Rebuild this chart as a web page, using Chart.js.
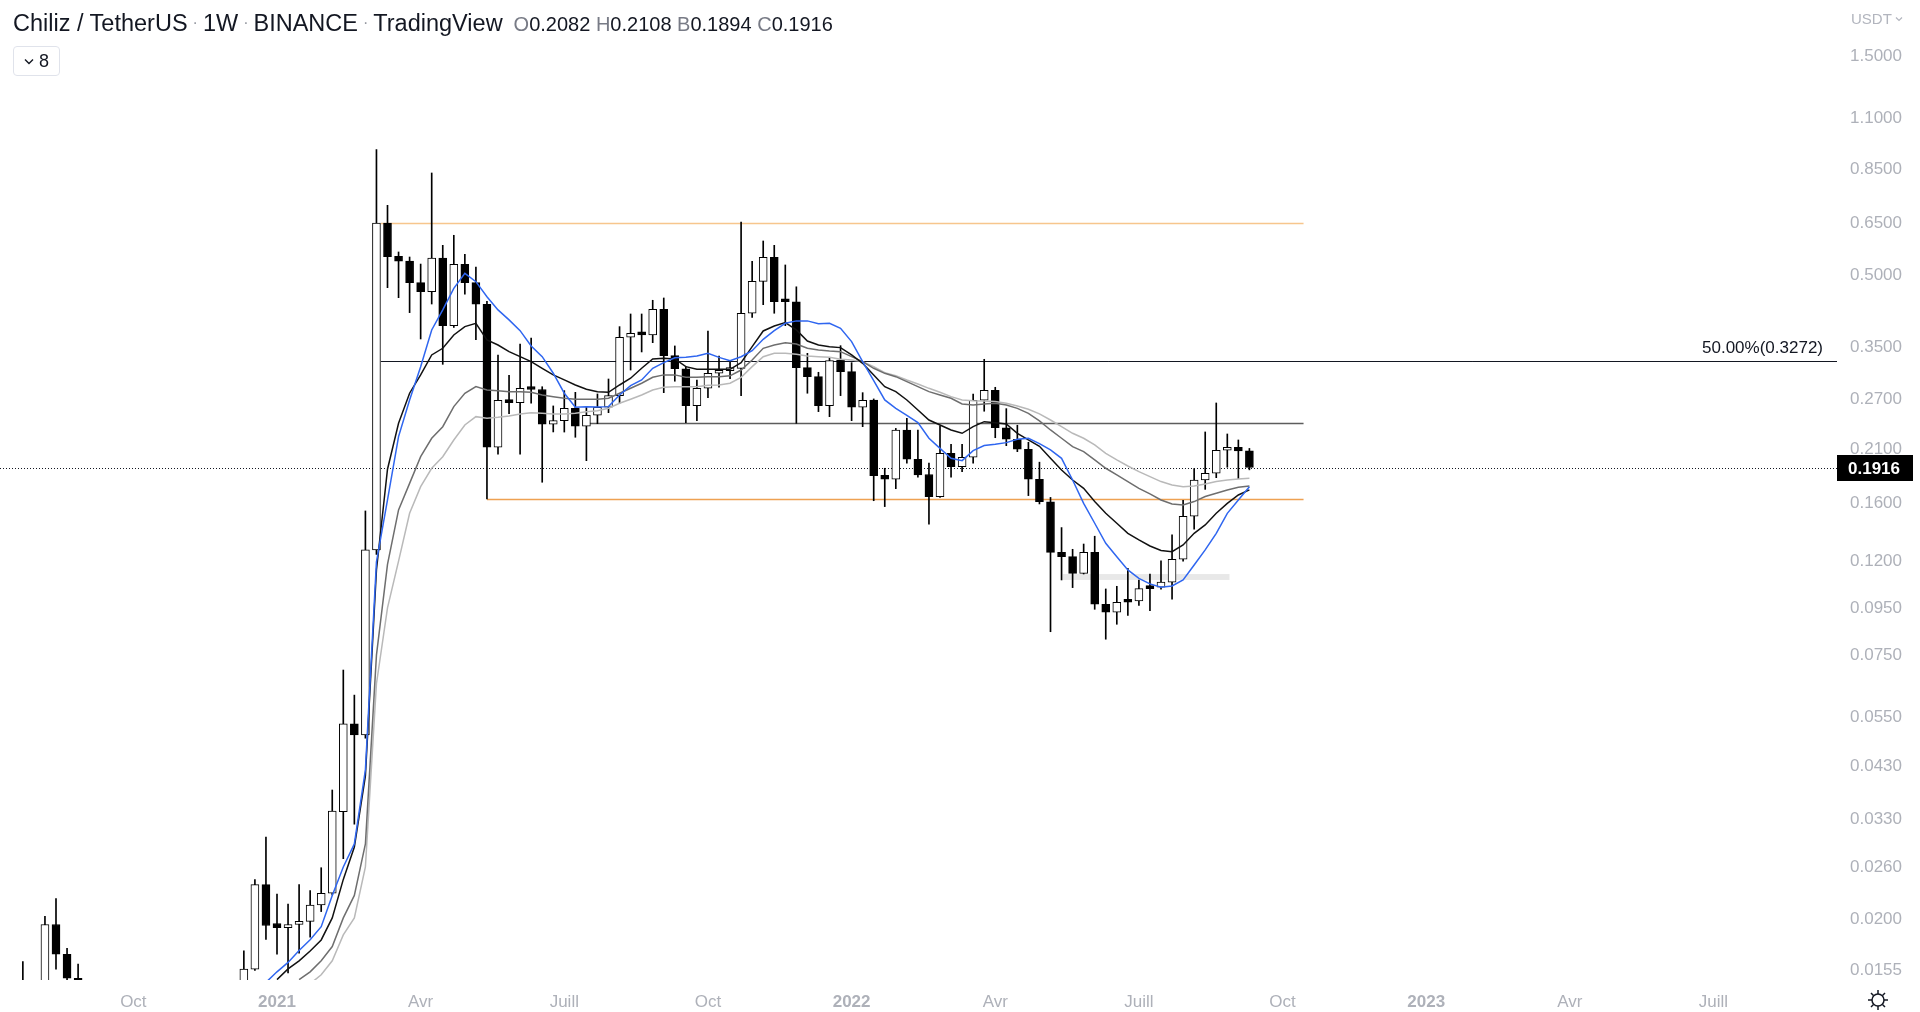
<!DOCTYPE html>
<html><head><meta charset="utf-8">
<script src="https://cdn.jsdelivr.net/npm/chart.js@4.4.1/dist/chart.umd.min.js"></script>
<style>
html,body{margin:0;padding:0;background:#fff;width:1920px;height:1012px;overflow:hidden}
#wrap{position:relative;width:1920px;height:1012px}
#c{position:absolute;left:0;top:0}
.ov{position:absolute;font-family:"Liberation Sans",Arial,sans-serif;white-space:nowrap;color:#131722}
#title{left:13px;top:10px;font-size:23.5px}
#title .dot{color:#9598a1;font-size:16px;margin:0 5px;vertical-align:3px}
#ohlc{font-size:20px;margin-left:11px}
#ohlc .k{color:#787b86}
#leg{left:13px;top:46px;width:47px;height:30px;border:1px solid #e0e3eb;border-radius:4px;box-sizing:border-box;font-size:18px;display:flex;align-items:center;justify-content:center;gap:5px}
#usdt{left:1851px;top:10px;font-size:15px;color:#b2b5be;display:flex;align-items:center;gap:3px}
#gear{left:1867px;top:989px}
</style></head>
<body><div id="wrap"><canvas id="c" width="1920" height="1012"></canvas>
<div id="title" class="ov">Chiliz / TetherUS<span class="dot">·</span>1W<span class="dot">·</span>BINANCE<span class="dot">·</span>TradingView<span id="ohlc"><span class="k">O</span>0.2082 <span class="k">H</span>0.2108 <span class="k">B</span>0.1894 <span class="k">C</span>0.1916</span></div>
<div id="leg" class="ov"><svg width="10" height="7" viewBox="0 0 10 7"><path d="M1 1.5 L5 5.5 L9 1.5" fill="none" stroke="#131722" stroke-width="1.4"/></svg><span>8</span></div>
<div id="usdt" class="ov">USDT<svg width="8" height="6" viewBox="0 0 8 6"><path d="M1 1.5 L4 4.5 L7 1.5" fill="none" stroke="#b2b5be" stroke-width="1.2"/></svg></div>
<svg id="gear" class="ov" width="22" height="22" viewBox="0 0 22 22"><circle cx="11" cy="11" r="6" fill="none" stroke="#131722" stroke-width="1.5"/><g stroke="#131722" stroke-width="1.5"><line x1="11" y1="1" x2="11" y2="5"/><line x1="11" y1="17" x2="11" y2="21"/><line x1="1" y1="11" x2="5" y2="11"/><line x1="17" y1="11" x2="21" y2="11"/><line x1="4" y1="4" x2="6.5" y2="6.5"/><line x1="15.5" y1="15.5" x2="18" y2="18"/><line x1="4" y1="18" x2="6.5" y2="15.5"/><line x1="15.5" y1="6.5" x2="18" y2="4"/></g></svg>
</div>
<script>
// ---- weekly candles (week index: 0 = week of 4 Jan 2021) ----
const candleWeeks = [-23,-22,-21,-20,-19,-18].concat(Array.from({length: 92}, (_, i) => i - 3));
const opens = [0.0128,0.0132,0.0135,0.0195,0.0168,0.0149,
 0.0140,0.0156,0.0238,0.0196,0.0192,0.0195,0.0198,0.0215,0.0228,0.0343,0.0532,0.0503,0.1269,
 0.6509,0.551,0.5382,0.483,0.4616,0.5463,0.3895,0.5294,0.483,0.4334,
 0.2121,0.2682,0.265,0.2855,0.283,0.2379,0.2422,0.2577,0.2355,0.2488,
 0.259,0.2745,0.3675,0.3755,0.372,0.4227,0.3353,0.314,0.261,0.2848,
 0.307,0.311,0.3147,0.4144,0.4862,0.5483,0.4422,0.439,0.3157,0.3018,
 0.261,0.3281,0.3094,0.259,0.2684,0.1843,0.1807,0.2312,0.1997,0.185,
 0.1656,0.2057,0.1924,0.2017,0.2682,0.282,0.2338,0.2207,0.2099,0.1807,
 0.1615,0.1254,0.1227,0.1129,0.1254,0.0967,0.0929,0.0983,0.0983,0.1053,
 0.1053,0.108,0.1211,0.1502,0.18,0.1862,0.2089,0.212,0.2082];
const highs = [0.0162,0.0145,0.0203,0.0222,0.0173,0.0160,
 0.0171,0.0244,0.0302,0.0227,0.0216,0.0238,0.0231,0.0259,0.0382,0.0696,0.0614,0.1542,0.94,
 0.711,0.563,0.549,0.53,0.8357,0.582,0.612,0.5566,0.5223,0.44,
 0.3364,0.304,0.3554,0.3662,0.287,0.2607,0.2814,0.2791,0.2598,0.2768,
 0.2983,0.3876,0.4129,0.4129,0.4422,0.4473,0.3519,0.318,0.2968,0.3793,
 0.3347,0.3265,0.654,0.5374,0.5948,0.582,0.5276,0.473,0.3392,0.3085,
 0.3309,0.3524,0.3237,0.2786,0.27,0.1909,0.233,0.245,0.2312,0.1958,
 0.2359,0.2153,0.2153,0.2768,0.3292,0.2862,0.2572,0.2367,0.2174,0.1968,
 0.165,0.1419,0.1273,0.1307,0.1359,0.1044,0.1058,0.1158,0.1092,0.1125,
 0.1201,0.1368,0.1627,0.1905,0.2289,0.2646,0.2266,0.2199,0.2108];
const lows = [0.0120,0.0122,0.0130,0.0156,0.0140,0.0135,
 0.0135,0.0155,0.0181,0.0168,0.0153,0.0169,0.0183,0.0208,0.0226,0.0271,0.0322,0.0495,0.124,
 0.471,0.448,0.4157,0.3644,0.434,0.321,0.386,0.4557,0.3631,0.1638,
 0.2048,0.2508,0.2048,0.2642,0.178,0.2289,0.2288,0.2229,0.1983,0.2386,
 0.2521,0.2642,0.312,0.3415,0.3577,0.2786,0.295,0.2398,0.2422,0.2717,
 0.2862,0.2988,0.2745,0.406,0.4326,0.4144,0.3895,0.239,0.2778,0.2534,
 0.2471,0.2745,0.2422,0.235,0.1623,0.1576,0.1724,0.1958,0.1825,0.1443,
 0.165,0.1825,0.1877,0.1958,0.2539,0.2224,0.2137,0.2074,0.1665,0.1597,
 0.0843,0.1092,0.1051,0.1125,0.0943,0.0812,0.0875,0.0915,0.0962,0.0937,
 0.1043,0.0992,0.12,0.1407,0.1718,0.1821,0.1919,0.1812,0.1894];
const closes = [0.0132,0.0135,0.0195,0.0168,0.0149,0.0145,
 0.0156,0.0238,0.0194,0.0192,0.0195,0.0198,0.0215,0.0228,0.0344,0.0532,0.0503,0.1269,0.6509,
 0.55,0.5374,0.483,0.4616,0.5463,0.3895,0.5294,0.483,0.4334,0.2121,
 0.2682,0.265,0.2848,0.283,0.2379,0.2422,0.2577,0.2355,0.2488,0.259,
 0.2745,0.3675,0.375,0.372,0.4227,0.3353,0.314,0.261,0.2848,0.307,
 0.311,0.3147,0.4144,0.4862,0.5483,0.439,0.439,0.3157,0.3018,0.261,
 0.327,0.3094,0.259,0.2682,0.184,0.1807,0.2312,0.1997,0.1846,0.1656,
 0.2057,0.1924,0.2017,0.2682,0.282,0.2338,0.2207,0.2099,0.1807,0.1615,
 0.1254,0.1227,0.1129,0.1254,0.0967,0.0929,0.0977,0.0977,0.1046,0.1046,
 0.108,0.1211,0.1502,0.18,0.1862,0.2089,0.212,0.2082,0.1916];

// ---- moving averages (weeks -1 .. 88) ----
const maWeeks = Array.from({length: 90}, (_, i) => i - 1);
const maBlue = [0.0146,0.01539,0.01613,0.01712,0.01807,0.01929,0.02255,0.0260,0.02917,0.04223,0.1195,
 0.1629,0.2236,0.2686,0.3173,0.3812,0.4213,0.4695,0.5061,0.4853,0.4502,
 0.4214,0.4009,0.3799,0.3519,0.3335,0.307,0.2778,0.2589,0.2598,0.2592,
 0.2598,0.2754,0.2886,0.2969,0.3147,0.3237,0.3318,0.3324,0.3347,0.3392,
 0.3324,0.327,0.3335,0.3437,0.3638,0.3799,0.3941,0.3989,0.3989,0.3934,
 0.3941,0.3844,0.3596,0.3254,0.2959,0.2686,0.2576,0.2488,0.2398,0.2218,
 0.2109,0.2006,0.1983,0.2085,0.2138,0.2152,0.217,0.2207,0.2218,0.216,
 0.2092,0.2006,0.18,0.1602,0.145,0.1312,0.1227,0.1148,0.1101,0.1071,
 0.1053,0.106,0.1092,0.1177,0.1269,0.1379,0.1524,0.1629,0.1741];
const maBlack = [null,0.0148,0.01562,0.01626,0.01708,0.01805,0.02015,0.02443,0.02873,0.04098,0.1148,
 0.19,0.239,0.2778,0.3045,0.3364,0.3478,0.3717,0.3876,0.3941,0.3626,
 0.3536,0.342,0.3335,0.3254,0.3147,0.3045,0.2969,0.2895,0.2834,0.28,
 0.2791,0.2895,0.2994,0.3147,0.3298,0.3309,0.3298,0.3173,0.3131,0.3131,
 0.3131,0.3131,0.3237,0.3507,0.3793,0.3889,0.3954,0.3812,0.3607,0.3536,
 0.3507,0.349,0.3364,0.3226,0.3044,0.2871,0.28,0.2686,0.2555,0.243,
 0.237,0.2312,0.2274,0.2351,0.241,0.2398,0.2382,0.2274,0.2199,0.213,
 0.2006,0.1893,0.18,0.1727,0.1616,0.1524,0.145,0.1379,0.1334,0.1294,
 0.1265,0.1258,0.1301,0.1379,0.1438,0.1524,0.1602,0.167,0.1713];
const maDark = [null,null,null,0.0148,0.01539,0.01626,0.01746,0.02015,0.02255,0.02917,0.075,
 0.118,0.155,0.177,0.2023,0.2218,0.235,0.2598,0.2778,0.2871,0.2824,
 0.2814,0.28,0.28,0.2791,0.2754,0.2731,0.2709,0.2696,0.2696,0.2696,
 0.2709,0.2778,0.2848,0.292,0.3008,0.3045,0.3045,0.3008,0.3008,0.3018,
 0.3018,0.303,0.312,0.3281,0.3478,0.3536,0.3577,0.3554,0.3478,0.3449,
 0.3432,0.342,0.3336,0.3254,0.3147,0.3069,0.3018,0.2944,0.2871,0.28,
 0.2754,0.2709,0.2633,0.262,0.2633,0.2642,0.262,0.2576,0.2513,0.242,
 0.2312,0.2218,0.2127,0.2075,0.199,0.1909,0.1846,0.1786,0.1727,0.1679,
 0.1629,0.1597,0.1589,0.1616,0.1657,0.1684,0.1713,0.1736,0.1747];
const maLight = [null,null,null,null,0.0145,0.01516,0.01626,0.01851,0.02015,0.026,0.065,
 0.095,0.12,0.1524,0.1741,0.1909,0.2023,0.2199,0.237,0.2471,0.2451,
 0.2463,0.2479,0.2505,0.252,0.2513,0.2505,0.2505,0.2513,0.2533,0.2546,
 0.2577,0.2642,0.2696,0.2754,0.2824,0.2861,0.2871,0.2871,0.2871,0.2891,
 0.2895,0.292,0.3008,0.3173,0.3335,0.3392,0.3392,0.3375,0.3347,0.3335,
 0.3324,0.3292,0.3281,0.3254,0.3173,0.308,0.3034,0.2969,0.291,0.2847,
 0.2791,0.2731,0.2686,0.2677,0.2672,0.2664,0.2642,0.2607,0.2564,0.2505,
 0.243,0.2351,0.2274,0.2218,0.2145,0.2057,0.199,0.1931,0.1877,0.1831,
 0.1786,0.1756,0.1741,0.1747,0.1765,0.1786,0.18,0.1809,0.1816];

// ---- drawn levels ----
const levelNames  = ['top','fib50','mid','bottom'];
const levelPrices = [0.6508, 0.3272, 0.2388, 0.1638];
const levelFrom   = [9.4, 9.4, 28, 19];
const levelTo     = [92.9, 141.2, 92.9, 92.9];
const fibLabel = '50.00%(0.3272)';
const zoneWeeks = [71.1, 86.2];
const zonePrices = [0.1092, 0.1125];
const lastPrice = 0.1916;

// ---- axis ticks ----
const yTicks = [1.5,1.1,0.85,0.65,0.5,0.35,0.27,0.21,0.16,0.12,0.095,0.075,0.055,0.043,0.033,0.026,0.02,0.0155];
const xTickWeeks  = [-13,0,13,26,39,52,65,78,91,104,117,130];
const xTickLabels = ['Oct','2021','Avr','Juill','Oct','2022','Avr','Juill','Oct','2023','Avr','Juill'];

const FONT = '"Liberation Sans", Arial, sans-serif';
const wickData = candleWeeks.map((w, i) => ({x: w, y: [lows[i], highs[i]]}));
const bodyData = candleWeeks.map((w, i) => ({x: w, y: [opens[i], closes[i]]}));
const bodyFill = candleWeeks.map((w, i) => closes[i] > opens[i] ? '#ffffff' : '#000000');
const mk = arr => maWeeks.map((w, i) => ({x: w, y: arr[i]}));

const overlay = {
  id: 'overlay',
  beforeDatasetsDraw(chart) {
    const {ctx, chartArea: a, scales: {x, y}} = chart;
    ctx.save();
    ctx.beginPath(); ctx.rect(a.left, a.top, a.right - a.left, a.bottom - a.top); ctx.clip();
    const zx1 = x.getPixelForValue(zoneWeeks[0]), zx2 = x.getPixelForValue(zoneWeeks[1]);
    const zy1 = y.getPixelForValue(zonePrices[1]), zy2 = y.getPixelForValue(zonePrices[0]);
    ctx.fillStyle = 'rgba(0,0,0,0.09)';
    ctx.fillRect(zx1, zy1, zx2 - zx1, zy2 - zy1);
    const styles = {top: ['#f7c68d', 1.5], fib50: ['#131722', 1], mid: ['#5d5d5d', 1.5], bottom: ['#eea152', 1.5]};
    levelNames.forEach((n, i) => {
      const yy = Math.round(y.getPixelForValue(levelPrices[i])) + 0.5;
      ctx.strokeStyle = styles[n][0]; ctx.lineWidth = styles[n][1];
      ctx.beginPath();
      ctx.moveTo(x.getPixelForValue(levelFrom[i]), yy);
      ctx.lineTo(Math.min(a.right, x.getPixelForValue(levelTo[i])), yy);
      ctx.stroke();
    });
    const ly = Math.round(y.getPixelForValue(lastPrice)) + 0.5;
    ctx.strokeStyle = '#131722'; ctx.lineWidth = 1; ctx.setLineDash([1, 2]);
    ctx.beginPath(); ctx.moveTo(a.left, ly); ctx.lineTo(a.right, ly); ctx.stroke();
    ctx.setLineDash([]);
    const fy = y.getPixelForValue(levelPrices[1]);
    ctx.fillStyle = '#131722'; ctx.font = '17px ' + FONT;
    ctx.textAlign = 'right'; ctx.textBaseline = 'bottom';
    ctx.fillText(fibLabel, a.right - 14, fy - 4);
    ctx.restore();
  },
  afterDraw(chart) {
    const {ctx, chartArea: a, scales: {y}} = chart;
    const ly = y.getPixelForValue(lastPrice);
    ctx.save();
    ctx.fillStyle = '#000';
    ctx.fillRect(a.right, Math.round(ly) - 13, 76, 26);
    ctx.fillStyle = '#fff'; ctx.font = 'bold 17px ' + FONT;
    ctx.textAlign = 'left'; ctx.textBaseline = 'middle';
    ctx.fillText(lastPrice.toFixed(4), a.right + 11, Math.round(ly) + 1);
    ctx.restore();
  }
};

new Chart(document.getElementById('c'), {
  type: 'bar',
  data: {
    datasets: [
      {type: 'line', label: 'blue', data: mk(maBlue), borderColor: '#2f66f0', borderWidth: 1.5, pointRadius: 0, tension: 0, order: 1},
      {type: 'line', label: 'black', data: mk(maBlack), borderColor: '#111111', borderWidth: 1.5, pointRadius: 0, tension: 0, order: 2},
      {type: 'line', label: 'dark', data: mk(maDark), borderColor: '#6e6e6e', borderWidth: 1.5, pointRadius: 0, tension: 0, order: 3},
      {type: 'line', label: 'light', data: mk(maLight), borderColor: '#b9b9b9', borderWidth: 1.5, pointRadius: 0, tension: 0, order: 4},
      {type: 'bar', label: 'body', data: bodyData, backgroundColor: bodyFill, borderColor: '#000', borderWidth: 1,
       borderSkipped: false, barThickness: 8, minBarLength: 3, grouped: false, order: 5},
      {type: 'bar', label: 'wick', data: wickData, backgroundColor: '#000', borderWidth: 0,
       barThickness: 1, grouped: false, order: 6}
    ]
  },
  options: {
    responsive: false, animation: false, events: [],
    layout: {padding: 0},
    plugins: {legend: {display: false}, tooltip: {enabled: false}},
    scales: {
      x: {
        type: 'linear', position: 'bottom', offset: false, min: -25.068, max: 141.176,
        grid: {display: false, drawTicks: false}, border: {display: false},
        afterBuildTicks: s => { s.ticks = xTickWeeks.map(v => ({value: v})); },
        afterFit: s => { s.height = 32; s.paddingLeft = 0; s.paddingRight = 0; },
        ticks: {
          autoSkip: false, maxRotation: 0, padding: 12, color: '#aeb1b9',
          font: ctx => ({family: FONT, size: 17, weight: /^\d{4}$/.test(xTickLabels[xTickWeeks.indexOf(ctx.tick && ctx.tick.value)] || '') ? 'bold' : 'normal'}),
          callback: v => xTickLabels[xTickWeeks.indexOf(v)] || ''
        }
      },
      y: {
        type: 'logarithmic', position: 'right', min: 0.014773, max: 1.9848,
        grid: {display: false, drawTicks: false}, border: {display: false},
        afterBuildTicks: s => { s.ticks = yTicks.map(v => ({value: v})); },
        afterFit: s => { s.width = 83; s.paddingTop = 0; s.paddingBottom = 0; },
        ticks: {autoSkip: false, padding: 13, color: '#aeb1b9', font: {family: FONT, size: 17},
          callback: v => Number(v).toFixed(4)}
      }
    }
  },
  plugins: [overlay]
});
</script>
</body></html>
